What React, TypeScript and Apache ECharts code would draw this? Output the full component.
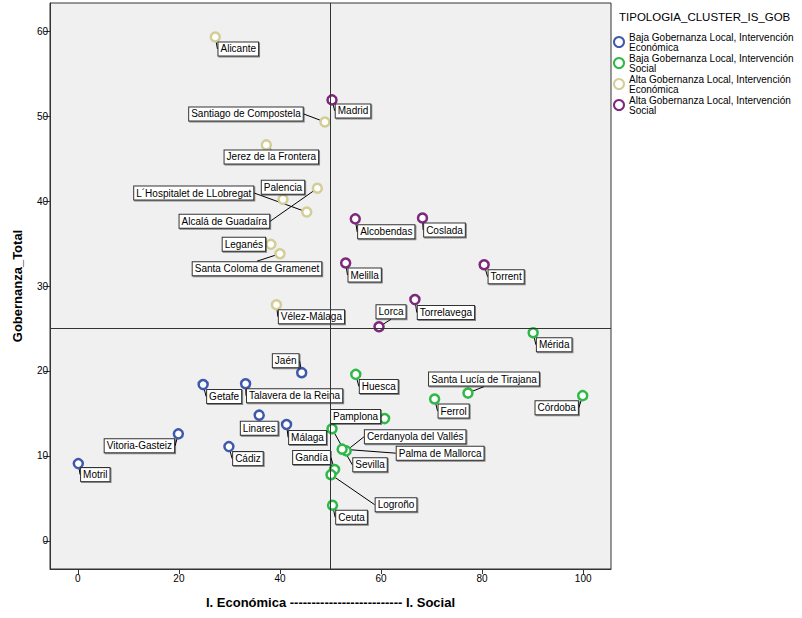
import React, { useEffect, useRef } from "react";
import * as echarts from "echarts";

// ---- Data ----
const bajaEconNames = ["Motril", "Vitoria-Gasteiz", "Cádiz", "Getafe", "Talavera de la Reina", "Linares", "Málaga", "Jaén"];
const bajaEconX = [0.1, 19.9, 29.9, 24.8, 33.2, 35.9, 41.3, 44.3];
const bajaEconY = [9.1, 12.6, 11.1, 18.4, 18.5, 14.8, 13.7, 19.8];

const bajaSocNames = ["Huesca", "Pamplona", "Sevilla", "Cerdanyola del Vallés", "Palma de Mallorca", "Gandía", "Logroño", "Ceuta", "Ferrol", "Santa Lucía de Tirajana", "Córdoba", "Mérida"];
const bajaSocX = [55.0, 60.7, 50.3, 53.1, 52.3, 50.8, 50.1, 50.4, 70.6, 77.2, 99.9, 90.1];
const bajaSocY = [19.6, 14.4, 13.2, 10.6, 10.8, 8.4, 7.8, 4.2, 16.7, 17.4, 17.1, 24.5];

const altaEconNames = ["Alicante", "Santiago de Compostela", "Jerez de la Frontera", "Palencia", "Alcalá de Guadaíra", "L´Hospitalet de LLobregat", "Leganés", "Santa Coloma de Gramenet", "Vélez-Málaga"];
const altaEconX = [27.2, 48.9, 37.3, 40.6, 47.4, 45.3, 38.2, 40.0, 39.3];
const altaEconY = [59.3, 49.3, 46.6, 40.2, 41.5, 38.7, 34.9, 33.8, 27.8];

const altaSocNames = ["Madrid", "Alcobendas", "Coslada", "Melilla", "Torrent", "Torrelavega", "Lorca"];
const altaSocX = [50.3, 54.9, 68.2, 53.0, 80.4, 66.7, 59.6];
const altaSocY = [51.9, 37.9, 38.0, 32.7, 32.5, 28.4, 25.2];

const seriesNames = [
  "Baja Gobernanza Local, Intervención Económica",
  "Baja Gobernanza Local, Intervención Social",
  "Alta Gobernanza Local, Intervención Económica",
  "Alta Gobernanza Local, Intervención Social",
];
const xTicks = [0, 20, 40, 60, 80, 100];
const yTicks = [0, 10, 20, 30, 40, 50, 60];
const refX = 50;
const refY = 25;

// ---- Layout (label offsets in px, label centre relative to point) ----
const labelOffsets: Record<string, [number, number]> = {
  "Alicante": [23, 12],
  "Madrid": [21, 11],
  "Santiago de Compostela": [-79, -8],
  "Jerez de la Frontera": [5, 12],
  "Palencia": [0, -12],
  "L´Hospitalet de LLobregat": [-113, -19],
  "Alcalá de Guadaíra": [-93, 33],
  "Alcobendas": [31, 13],
  "Coslada": [22, 12],
  "Leganés": [-27, 0],
  "Santa Coloma de Gramenet": [-23, 15],
  "Melilla": [19, 12],
  "Torrent": [22, 12],
  "Vélez-Málaga": [35, 12],
  "Lorca": [12, -15],
  "Torrelavega": [31, 13],
  "Mérida": [21, 12],
  "Jaén": [-16, -12],
  "Huesca": [23, 12],
  "Getafe": [21, 12],
  "Talavera de la Reina": [49, 12],
  "Santa Lucía de Tirajana": [16, -14],
  "Ferrol": [19, 12],
  "Córdoba": [-26, 12],
  "Pamplona": [-29, -2],
  "Linares": [0, 13],
  "Málaga": [21, 13],
  "Cerdanyola del Vallés": [69, -14],
  "Palma de Mallorca": [98, 4],
  "Sevilla": [38, 36],
  "Vitoria-Gasteiz": [-39, 12],
  "Cádiz": [19, 12],
  "Gandía": [-23, -12],
  "Motril": [17, 11],
  "Logroño": [65, 30],
  "Ceuta": [19, 12],
};

const colors = ["#3E58AC", "#2EB848", "#D3CE97", "#7C287D"];
const FONT = "'Liberation Sans', Arial, sans-serif";

function buildData(names: string[], xs: number[], ys: number[]) {
  return names.map((n, i) => ({ name: n, value: [xs[i], ys[i]] }));
}

export default function App() {
  const ref = useRef<HTMLDivElement>(null);
  useEffect(() => {
    if (!ref.current) return;
    const chart = echarts.init(ref.current, null, { renderer: "svg" });
    const groups = [
      buildData(bajaEconNames, bajaEconX, bajaEconY),
      buildData(bajaSocNames, bajaSocX, bajaSocY),
      buildData(altaEconNames, altaEconX, altaEconY),
      buildData(altaSocNames, altaSocX, altaSocY),
    ];
    const dataSeries = groups.map((data, i) => ({
      type: "scatter",
      name: seriesNames[i],
      data,
      z: 2,
      symbol: "circle",
      symbolSize: 9,
      itemStyle: { color: "#ffffff", borderColor: colors[i], borderWidth: 2.5, opacity: 1 },
      label: {
        show: true,
        formatter: "{b}",
        fontSize: 10,
        fontFamily: FONT,
        color: "#000",
        backgroundColor: "#ffffff",
        borderColor: "#333",
        borderWidth: 1,
        padding: [2, 2, 1, 2],
        shadowColor: "rgba(0,0,0,0.45)",
        shadowOffsetX: 1,
        shadowOffsetY: 1,
        shadowBlur: 0,
      },
      labelLine: { show: true, lineStyle: { color: "#000", width: 1 } },
      labelLayout: (params: any) => {
        const off = labelOffsets[params.text] || [15, 12];
        const r = params.rect;
        return {
          x: r.x + r.width / 2 + off[0],
          y: r.y + r.height / 2 + off[1],
          align: "center",
          verticalAlign: "middle",
        };
      },
      emphasis: { disabled: true },
    }));

    chart.setOption({
      animation: false,
      backgroundColor: "#ffffff",
      textStyle: { fontFamily: FONT },
      title: {
        text: "TIPOLOGIA_CLUSTER_IS_GOB",
        left: 614,
        top: 6,
        textStyle: { fontSize: 11.5, fontWeight: "normal", color: "#000", fontFamily: FONT },
      },
      legend: {
        data: seriesNames,
        orient: "vertical",
        left: 608,
        top: 27,
        itemWidth: 10,
        itemHeight: 10,
        itemGap: 1,
        icon: "circle",
        selectedMode: false,
        formatter: (name: string) => name.replace("Intervención ", "Intervención\n"),
        textStyle: { fontSize: 10, lineHeight: 10, color: "#000", fontFamily: FONT },
      },
      grid: {
        left: 50,
        right: 191,
        top: 3,
        bottom: 49,
        show: true,
        backgroundColor: "#F0F0F0",
        borderColor: "#333",
        borderWidth: 1,
      },
      xAxis: {
        type: "value",
        min: -5.5,
        max: 105.5,
        name: "I. Económica -------------------------- I. Social",
        nameLocation: "middle",
        nameGap: 27,
        nameTextStyle: { fontSize: 13, fontWeight: "bold", color: "#000", fontFamily: FONT },
        splitLine: { show: false },
        axisLine: { show: true, onZero: false, lineStyle: { color: "#333" } },
        axisTick: { show: true, length: 5, customValues: xTicks, lineStyle: { color: "#333" } },
        axisLabel: { customValues: xTicks, fontSize: 10, color: "#000", margin: 4, fontFamily: FONT },
      },
      yAxis: {
        type: "value",
        min: -3.3,
        max: 63.3,
        name: "Gobernanza_Total",
        nameLocation: "middle",
        nameGap: 26,
        nameTextStyle: { fontSize: 13, fontWeight: "bold", color: "#000", fontFamily: FONT },
        splitLine: { show: false },
        axisLine: { show: true, onZero: false, lineStyle: { color: "#333" } },
        axisTick: { show: true, length: 6, customValues: yTicks, lineStyle: { color: "#333" } },
        axisLabel: { customValues: yTicks, fontSize: 10, color: "#000", margin: 2, fontFamily: FONT },
      },
      series: [
        ...dataSeries,
        {
          type: "scatter",
          name: "ref",
          data: [],
          z: 3,
          silent: true,
          markLine: {
            silent: true,
            symbol: "none",
            animation: false,
            label: { show: false },
            lineStyle: { color: "#333", type: "solid", width: 1 },
            data: [{ xAxis: refX }, { yAxis: refY }],
          },
        },
      ],
    });
    return () => chart.dispose();
  }, []);
  return (
    <div
      ref={ref}
      style={{ position: "fixed", left: 0, top: 0, width: 802, height: 618 }}
    />
  );
}
